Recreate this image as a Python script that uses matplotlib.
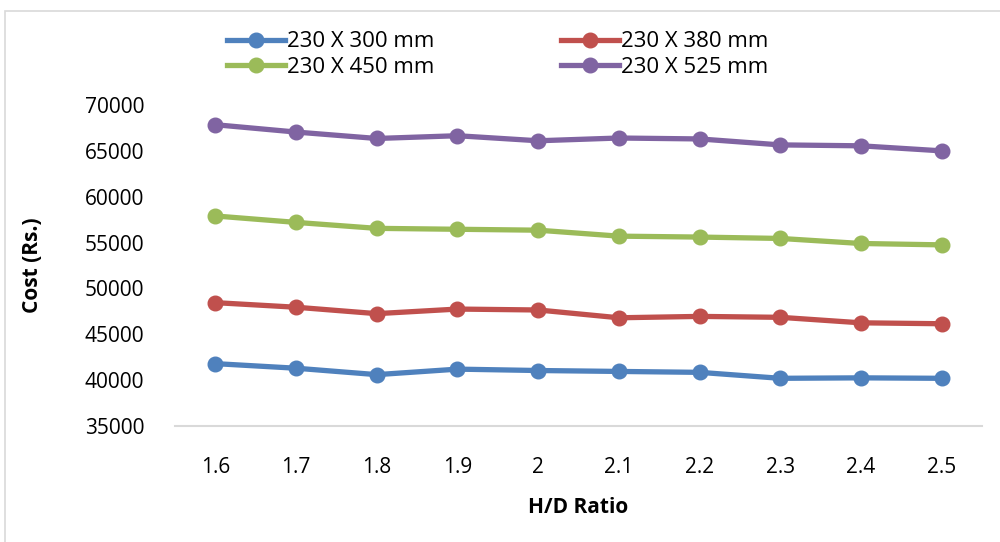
import numpy as np
import matplotlib
matplotlib.use("Agg")
import matplotlib.pyplot as plt
from matplotlib.patches import Rectangle

# H/D ratio categories
ratios = ["1.6", "1.7", "1.8", "1.9", "2", "2.1", "2.2", "2.3", "2.4", "2.5"]

# Cost (Rs.) per wall size
cost_300 = [41800, 41300, 40600, 41200, 41050, 40950, 40850, 40200, 40250, 40200]
cost_380 = [48450, 47950, 47250, 47750, 47650, 46800, 46950, 46850, 46250, 46150]
cost_450 = [57900, 57200, 56550, 56450, 56350, 55700, 55600, 55450, 54900, 54750]
cost_525 = [67850, 67050, 66350, 66650, 66100, 66400, 66300, 65650, 65550, 65000]

labels = ["230 X 300 mm", "230 X 380 mm", "230 X 450 mm", "230 X 525 mm"]
colors = ["#4F81BD", "#C0504D", "#9BBB59", "#8064A2"]

plt.rcParams['font.family'] = ['Open Sans', 'DejaVu Sans']

fig = plt.figure(figsize=(10, 5.42), dpi=100)
ax = fig.add_axes([0.175, 1 - 426 / 542, 0.807, (426 - 105) / 542])

# outer chart border
fig.patches.append(Rectangle((5 / 1000, -0.1), 1.2, 1 - 11 / 542 + 0.1,
                             transform=fig.transFigure, fill=False,
                             edgecolor="#D9D9D9", linewidth=1.2))

x = np.arange(len(ratios))
lines = []
for vals, lab, col in zip([cost_300, cost_380, cost_450, cost_525], labels, colors):
    l, = ax.plot(x, vals, '-o', color=col, lw=3.8, markersize=10.5, label=lab)
    lines.append(l)

ax.set_xlim(-0.5, len(ratios) - 0.5)
ax.set_ylim(35000, 70000)
ax.set_yticks(np.arange(35000, 70001, 5000))
ax.set_xticks(x)
ax.set_xticklabels(ratios)
for s in ['top', 'right', 'left']:
    ax.spines[s].set_visible(False)
ax.spines['bottom'].set_color("#D9D9D9")
ax.spines['bottom'].set_linewidth(1.5)
ax.tick_params(axis='both', length=0, labelsize=15)
ax.tick_params(axis='y', pad=22)
ax.tick_params(axis='x', pad=22)

ax.set_ylabel("Cost (Rs.)", fontsize=15, fontweight='bold', labelpad=30)
ax.set_xlabel("H/D Ratio", fontsize=15, fontweight='bold', labelpad=14)

# legend order: row by row
order = [0, 2, 1, 3]
fig.legend([lines[i] for i in order], [labels[i] for i in order], ncol=2,
           frameon=False, fontsize=16, handlelength=2.6, handletextpad=0.1,
           columnspacing=5.7, labelspacing=0.2,
           loc='upper left', bbox_to_anchor=(0.207, 0.979))

plt.savefig("out.png", dpi=100)
